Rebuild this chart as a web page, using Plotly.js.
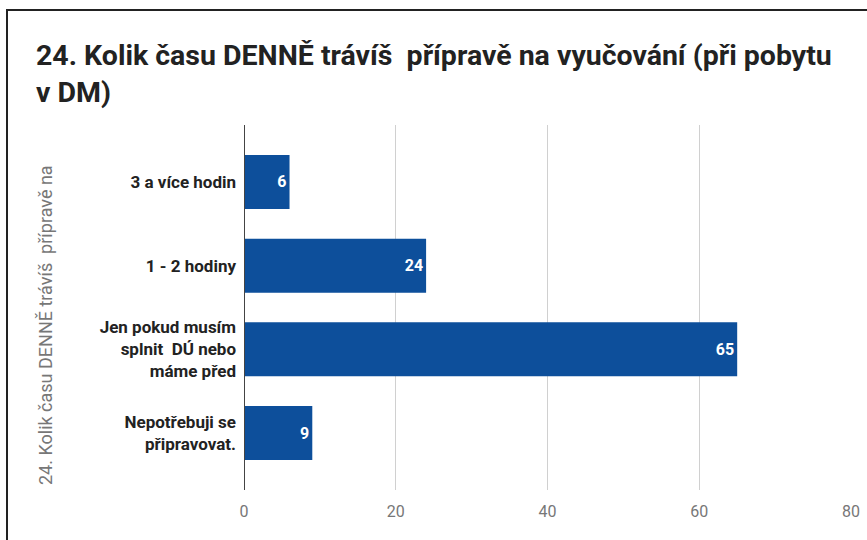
<!DOCTYPE html>
<html>
<head>
<meta charset="utf-8">
<script src="https://cdn.plot.ly/plotly-3.0.1.min.js"></script>
<style>
  html, body { margin: 0; padding: 0; background: #fff; }
  #wrap { position: relative; width: 867px; height: 540px; overflow: hidden; }
  #chart { position: absolute; left: 0; top: 0; width: 867px; height: 540px; }
  #frame { position: absolute; left: 6px; top: 9px; width: 880px; height: 560px;
           border-top: 2px solid #222; border-left: 2px solid #222; pointer-events: none; }
</style>
</head>
<body>
<div id="wrap">
  <div id="chart"></div>
  <div id="frame"></div>
</div>
<script>
const categories = [
  "3 a více hodin",
  "1 - 2 hodiny",
  "Jen pokud musím<br>splnit\u00a0 DÚ nebo<br>máme před",
  "Nepotřebuji se<br>připravovat."
];
const values = [6, 24, 65, 9];
const xTicks = [0, 20, 40, 60, 80];
const chartTitle = "24. Kolik času DENNĚ trávíš\u00a0 přípravě na vyučování (při pobytu<br>v DM)";
const yTitle = "24. Kolik času DENNĚ trávíš\u00a0 přípravě na";

const trace = {
  type: "bar",
  orientation: "h",
  x: values,
  y: [0, 1, 2, 3],
  text: values.map(String),
  textposition: "inside",
  insidetextanchor: "end",
  textangle: 0,
  textfont: { family: "Roboto", size: 16, color: "#ffffff", weight: "bold" },
  marker: { color: "#0d4f9b", line: { width: 0 } },
  hoverinfo: "none",
  cliponaxis: false
};

const layout = {
  width: 867,
  height: 540,
  paper_bgcolor: "#ffffff",
  plot_bgcolor: "#ffffff",
  margin: { l: 244, r: 16, t: 125, b: 50, pad: 0 },
  bargap: 0.355,
  showlegend: false,
  title: {
    text: chartTitle,
    font: { family: "Roboto", size: 28.5, color: "#222222", weight: "bold" },
    x: 36 / 867,
    xanchor: "left",
    xref: "container",
    y: 1 - 65 / 540,
    yanchor: "top",
    yref: "container"
  },
  xaxis: {
    range: [0, 80],
    tickvals: xTicks,
    ticktext: xTicks.map(String),
    showgrid: true,
    gridcolor: "#d0d0d0",
    gridwidth: 1,
    zeroline: false,
    showline: false,
    ticks: "",
    ticklabelstandoff: 10,
    tickfont: { family: "Roboto", size: 16, color: "#777777" },
    fixedrange: true
  },
  yaxis: {
    range: [3.68, -0.68],
    tickvals: [0, 1, 2, 3],
    ticktext: categories,
    showgrid: false,
    zeroline: false,
    showline: false,
    ticks: "",
    ticklabelstandoff: 7,
    tickfont: { family: "Roboto", size: 17, color: "#222222", weight: "bold" },
    automargin: false,
    fixedrange: true
  },
  annotations: [
    {
      text: yTitle,
      textangle: -90,
      xref: "paper", yref: "paper",
      x: (45 - 244) / 607, y: (490 - 325) / 365,
      xanchor: "center", yanchor: "middle",
      showarrow: false,
      font: { family: "Roboto", size: 18, color: "#777777" }
    }
  ],
  shapes: [
    {
      type: "line", xref: "x", yref: "paper",
      x0: 0, x1: 0, y0: 0, y1: 1,
      line: { color: "#444444", width: 2 }
    }
  ]
};

Plotly.newPlot("chart", [trace], layout, { displayModeBar: false, staticPlot: true });
</script>
</body>
</html>
